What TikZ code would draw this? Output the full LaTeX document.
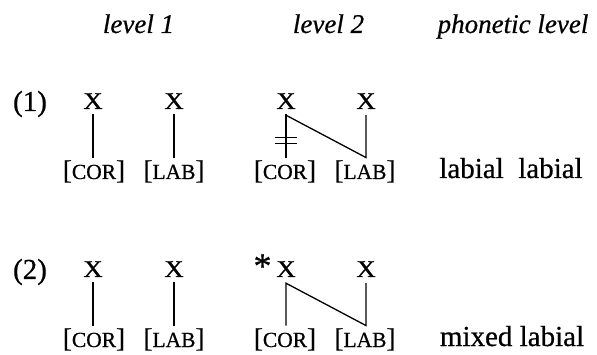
\documentclass[tikz,border=0pt]{standalone}
\usepackage{fontspec}
\setmainfont{Liberation Serif}[FakeBold=0.6]
\newcommand{\smc}[1]{{\fontsize{21.5}{22}\selectfont #1}}
\newcommand{\xs}{\scalebox{1.12}[1]{X}}
\begin{document}
\begin{tikzpicture}[x=1pt,y=-1pt,
  seg/.style={inner sep=0pt, anchor=base, font=\fontsize{24}{24}\selectfont},
  feat/.style={inner sep=0pt, anchor=base, font=\fontsize{27}{27}\selectfont},
  head/.style={inner sep=0pt, anchor=base, font=\fontsize{27}{27}\selectfont\itshape},
  lbl/.style={inner sep=0pt, anchor=base, font=\fontsize{29}{29}\selectfont},
  assoc/.style={line width=1.3pt, line join=miter},
  up/.style={shorten <=5pt, shorten >=2.5pt}]
\useasboundingbox (0,0) rectangle (597,355);
% headers
\node[head] (h1) at (138.5,33) {level 1};
\node[head] (h2) at (328.5,33) {level 2};
\node[head] (h3) at (513,33) {phonetic level};
% row 1
\node[lbl] (n1) at (30,111) {(1)};
\node[seg] (a1) at (93,109) {\xs};
\node[seg] (b1) at (174,109) {\xs};
\node[seg] (c1) at (286,109) {\xs};
\node[seg] (d1) at (366,109) {\xs};
\node[feat] (fa1) at (94,179) {[\smc{COR}]};
\node[feat] (fb1) at (174,179) {[\smc{LAB}]};
\node[feat] (fc1) at (285,179) {[\smc{COR}]};
\node[feat] (fd1) at (365,179) {[\smc{LAB}]};
\node[lbl] (p1) at (511,178) {labial\ \ labial};
\draw[assoc,up] (a1.south) -- (a1.south |- fa1.north);
\draw[assoc,up] (b1.south) -- (b1.south |- fb1.north);
\draw[assoc,up] (c1.south) -- (c1.south |- fc1.north);
\draw[assoc] ([yshift=-6pt]c1.south) -- ([yshift=2.5pt]d1.south |- fd1.north) -- ([yshift=-6pt]d1.south);
\draw[assoc] ([xshift=-11pt]c1.south |- 0,137.5) -- ([xshift=11pt]c1.south |- 0,137.5);
\draw[assoc] ([xshift=-11pt]c1.south |- 0,143.5) -- ([xshift=11pt]c1.south |- 0,143.5);
% row 2
\node[lbl] (n2) at (30,279) {(2)};
\node[seg] (a2) at (93,277) {\xs};
\node[seg] (b2) at (174,277) {\xs};
\node[seg] (c2) at (286,277) {\xs};
\node[seg] (d2) at (366,277) {\xs};
\node[inner sep=0pt, anchor=base, font=\fontsize{36}{36}\selectfont] (ast) at (262.5,278) {*};
\node[feat] (fa2) at (94,347) {[\smc{COR}]};
\node[feat] (fb2) at (174,347) {[\smc{LAB}]};
\node[feat] (fc2) at (285,347) {[\smc{COR}]};
\node[feat] (fd2) at (365,347) {[\smc{LAB}]};
\node[lbl] (p2) at (512,346) {mixed labial};
\draw[assoc,up] (a2.south) -- (a2.south |- fa2.north);
\draw[assoc,up] (b2.south) -- (b2.south |- fb2.north);
\draw[assoc] ([yshift=2.5pt]c2.south |- fc2.north) -- ([yshift=-6pt]c2.south) -- ([yshift=2.5pt]d2.south |- fd2.north) -- ([yshift=-6pt]d2.south);
\end{tikzpicture}
\end{document}
